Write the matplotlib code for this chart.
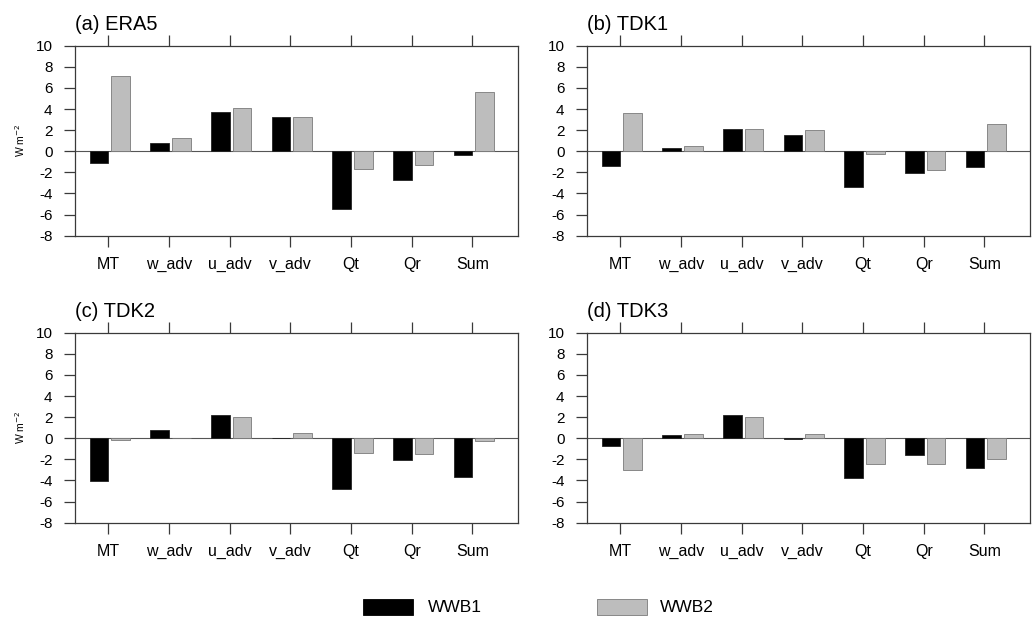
import numpy as np
import matplotlib
matplotlib.use("Agg")
import matplotlib.pyplot as plt
from matplotlib.patches import Rectangle

plt.rcParams['font.family'] = ['Liberation Sans', 'DejaVu Sans']
plt.rcParams['axes.unicode_minus'] = False

categories = ["MT", "w_adv", "u_adv", "v_adv", "Qt", "Qr", "Sum"]
panel_titles = ["(a) ERA5", "(b) TDK1", "(c) TDK2", "(d) TDK3"]
series_names = ["WWB1", "WWB2"]

era5_wwb1 = [-1.1, 0.8, 3.75, 3.2, -5.5, -2.7, -0.35]
era5_wwb2 = [7.1, 1.3, 4.1, 3.2, -1.65, -1.3, 5.65]
tdk1_wwb1 = [-1.35, 0.3, 2.15, 1.5, -3.35, -2.1, -1.5]
tdk1_wwb2 = [3.65, 0.5, 2.1, 2.0, -0.3, -1.75, 2.55]
tdk2_wwb1 = [-4.05, 0.8, 2.25, 0.03, -4.8, -2.05, -3.65]
tdk2_wwb2 = [-0.12, 0.03, 2.05, 0.5, -1.35, -1.5, -0.22]
tdk3_wwb1 = [-0.75, 0.35, 2.25, -0.04, -3.8, -1.6, -2.8]
tdk3_wwb2 = [-3.0, 0.45, 2.05, 0.4, -2.4, -2.4, -1.95]

panel_data = [
    (era5_wwb1, era5_wwb2),
    (tdk1_wwb1, tdk1_wwb2),
    (tdk2_wwb1, tdk2_wwb2),
    (tdk3_wwb1, tdk3_wwb2),
]

W, H = 1032, 619
fig = plt.figure(figsize=(W / 100, H / 100), dpi=100)

black_fill = "#000000"
gray_fill = "#bdbdbd"
frame_col = "#3a3a3a"

# panel boxes in pixels: (left, top, right, bottom)
boxes = [
    (74.7, 45.7, 517.7, 235.7),
    (586.7, 45.7, 1029.7, 235.7),
    (74.7, 332.7, 517.7, 522.7),
    (586.7, 332.7, 1029.7, 522.7),
]

x = np.arange(1, len(categories) + 1)
bw = 0.31

for i, ((l, t, r, b), title, (s1, s2)) in enumerate(zip(boxes, panel_titles, panel_data)):
    pw, ph = r - l, b - t
    ax = fig.add_axes([l / W, (H - b) / H, pw / W, ph / H])
    ax.bar(x - bw, s1, width=bw, align='edge', color=black_fill,
           edgecolor="#222222", linewidth=0.6, zorder=2)
    ax.bar(x + 0.05, s2, width=bw, align='edge', color=gray_fill,
           edgecolor="#7a7a7a", linewidth=0.6, zorder=2)
    ax.axhline(0, color="#555555", linewidth=0.8, zorder=1)
    ax.set_xlim(0.446, 7.748)
    ax.set_ylim(-8, 10)
    ax.set_yticks(np.arange(-8, 11, 2))
    ax.set_xticks(x)
    ax.set_xticklabels(categories)
    ax.tick_params(axis='x', which='both', direction='out', length=8,
                   width=0.9, color=frame_col, top=True, bottom=True,
                   pad=7, labelsize=11.5)
    ax.tick_params(axis='y', direction='out', length=8, width=0.9,
                   color=frame_col, left=True, right=False, labelsize=11, pad=8)
    for sp in ax.spines.values():
        sp.set_color(frame_col)
        sp.set_linewidth(0.9)
    ax.text(0.0, 1 + 15.7 / ph, title, transform=ax.transAxes, fontsize=14.5,
            ha='left', va='baseline')
    if i % 2 == 0:
        ax.set_ylabel(r"W m$^{-2}$", fontsize=7.5)
        ax.yaxis.set_label_coords(-(l - 27) / pw, 0.5)

# legend at the bottom
lax = fig.add_axes([0, 0, 1, 1], facecolor='none')
lax.set_xlim(0, W)
lax.set_ylim(H, 0)
lax.axis('off')
lax.add_patch(Rectangle((362.7, 598.5), 50, 16.5, facecolor=black_fill,
                        edgecolor="#000000", linewidth=0.6))
lax.add_patch(Rectangle((596.7, 598.5), 50, 16.5, facecolor=gray_fill,
                        edgecolor="#7a7a7a", linewidth=0.6))
lax.text(428, 607, series_names[0], fontsize=12.5, va='center', ha='left')
lax.text(660, 607, series_names[1], fontsize=12.5, va='center', ha='left')

fig.savefig("out.png", dpi=100)
